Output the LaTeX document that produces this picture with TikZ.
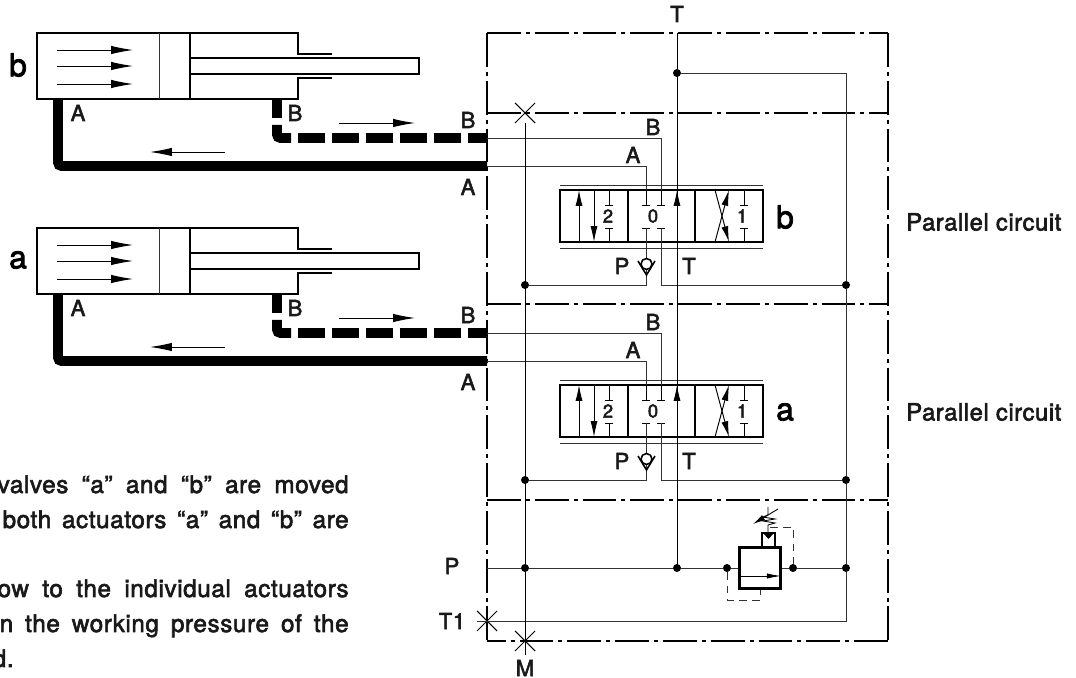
\documentclass[tikz,border=0pt]{standalone}
\usepackage{fontspec}
\setmainfont{TeX Gyre Heros}
\newfontfamily\medfont[FakeBold=2.5,LetterSpace=2.5]{TeX Gyre Heros}
\usepackage{tikz}
\usetikzlibrary{arrows.meta}
\usetikzlibrary{positioning,shapes.misc}
\definecolor{pipegray}{gray}{0.2}
\tikzset{
	pipe/.style={pipegray,line width=0.55pt},
	border/.style={black,line width=0.85pt,dash pattern=on 19.3pt off 2.8pt on 2.3pt off 2.8pt},
	heavy/.style={black,line width=5.6pt},
	pilot/.style={pipegray,line width=0.55pt,dash pattern=on 4.5pt off 3pt},
	junction/.style={circle,fill=black,inner sep=0pt,minimum size=0.16cm},
	plug/.style={cross out,draw=black,line width=0.6pt,inner sep=0pt,minimum size=0.38cm},
	port/.style={font=\medfont\fontsize{12.5}{14}\selectfont,text=black!90,inner sep=0pt},
	unitname/.style={font=\medfont\fontsize{18}{20}\selectfont,inner sep=0pt},
	digit/.style={font=\medfont\fontsize{10.5}{12}\selectfont,text=black!90,inner sep=0pt},
	note/.style={font=\medfont\fontsize{13.8}{16}\selectfont,text=black!90,inner sep=0pt,anchor=base east},
	flow/.style={black,line width=0.5pt,-{Latex[length=12.5pt,width=4.8pt]}},
	spool/.style={black,line width=0.55pt,-{Latex[length=9pt,width=4pt]}},
}
\newcommand{\cylinderunit}[2]{
	\begin{scope}[shift={(0,#1)}]
	\draw[black,line width=0.7pt] (332,54) -- (298,54) -- (298,33) -- (37,33) -- (37,99) -- (298,99) -- (298,78) -- (332,78);
	\draw[pipe] (159,33) -- (159,99);
	\draw[black,line width=0.6pt] (190,33) -- (190,99);
	\draw[black,line width=0.6pt] (190,58) -- (419,58) -- (419,74) -- (190,74);
	\draw[flow] (57,50) -- (133,50);
	\draw[flow] (57,66) -- (133,66);
	\draw[flow] (57,84) -- (133,84);
	\draw[heavy,rounded corners=2pt] (58,99) -- (58,166) -- (487,166);
	\draw[heavy] (277,99) -- (277,118);
	\draw[heavy,rounded corners=2pt] (277,125) -- (277,138) -- (291,138);
	\draw[heavy,dash pattern=on 15.5pt off 3.8pt] (298,138) -- (487,138);
	\draw[flow] (339,123) -- (415,123);
	\draw[flow] (225,152) -- (150,152);
	\node[unitname] (cyl#2) at (18,65) {#2};
	\node[port] (capA#2) at (78,113) {A};
	\node[port] (capB#2) at (295,113) {B};
	\node[port] (extB#2) at (468,120) {B};
	\node[port] (extA#2) at (468,187) {A};
	\end{scope}
}
\newcommand{\stub}[3]{
	\draw[black,line width=0.5pt] (#1,#2) -- (#1,#3);
	\draw[black,line width=0.5pt] (#1-4,#3) -- (#1+4,#3);
}
\newcommand{\valveunit}[2]{
	\begin{scope}[shift={(0,#1)}]
	\draw[pipegray,line width=0.5pt] (560,185) -- (763,185);
	\draw[pipegray,line width=0.5pt] (560,248) -- (763,248);
	\draw[black,line width=1pt] (560,190) rectangle (763,242);
	\draw[black,line width=0.9pt] (628,190) -- (628,242);
	\draw[black,line width=0.9pt] (695,190) -- (695,242);
	\draw[spool] (579,242) -- (579,190);
	\draw[spool] (594,190) -- (594,242);
	\draw[spool] (715,242) -- (729,190);
	\draw[spool] (715,190) -- (729,242);
	\draw[spool] (677,225) -- (677,190);
	\stub{609}{190}{205}
	\stub{609}{242}{228}
	\stub{744}{190}{205}
	\stub{744}{242}{228}
	\stub{646}{190}{205}
	\stub{646}{242}{228}
	\stub{661}{190}{205}
	\stub{661}{242}{228}
	\node[digit] (two#2) at (608,216) {2};
	\node[digit] (zero#2) at (653,216) {0};
	\node[digit] (one#2) at (742,216) {1};
	\node[unitname] (valve#2) at (785,217) {#2};
	\draw[pipe] (487,138) -- (661,138) -- (661,190);
	\draw[pipe] (487,166) -- (646,166) -- (646,190);
	\node[port] (inB#2) at (653,127) {B};
	\node[port] (inA#2) at (633,155) {A};
	\node[port] (inP#2) at (622,266) {P};
	\node[port] (inT#2) at (689,266) {T};
	\node[junction] (left#2) at (525,285) {};
	\node[junction] (right#2) at (846,285) {};
	\draw[pipe] (646,228) -- (646,285) -- (left#2);
	\draw[pipe] (661,228) -- (661,285) -- (right#2);
	\draw[black,line width=0.9pt,fill=white] (646.5,264) circle (5.5);
	\draw[black,line width=0.9pt] (638,261) -- (646.5,275) -- (655,261);
	\end{scope}
}
\begin{document}
\begin{tikzpicture}[x=0.02cm,y=-0.02cm]
	\useasboundingbox (0,0) rectangle (1076,678);
	\draw[border] (487,33) -- (888,33);
	\draw[border] (487,113) -- (888,113);
	\draw[border] (487,304) -- (888,304);
	\draw[border] (487,500) -- (888,500);
	\draw[border] (888,641) -- (487,641);
	\draw[border] (487,33) -- (487,641);
	\draw[border] (888,33) -- (888,641);
	\cylinderunit{0}{b}
	\cylinderunit{195}{a}
	\valveunit{0}{b}
	\valveunit{195}{a}
	\node[junction] (tankjoin) at (677,73) {};
	\node[junction] (pumptank) at (677,568) {};
	\node[junction] (pumpgauge) at (525,568) {};
	\node[junction] (pilotin) at (727,568) {};
	\node[junction] (pilotout) at (793,568) {};
	\node[junction] (pumpreturn) at (846,568) {};
	\node[draw=black,line width=1.2pt,minimum size=0.82cm,inner sep=0pt] (relief) at (760,568) {};
	\draw[black,line width=1pt] (762,547) -- (762,533) -- (775,533) -- (775,547);
	\fill[black] (763,533) -- (774,533) -- (768.5,539) -- cycle;
	\draw[black,line width=0.5pt,-{Latex[length=8pt,width=3pt]}] (739,576) -- (781,576);
	\draw[pilot] (770,527) -- (793,527) -- (pilotout);
	\draw[pilot] (pilotin) -- (727,600) -- (760,600) -- (relief.south);
	\draw[black,line width=0.5pt] (768,533) -- (768,525) -- (775,523) -- (763,521) -- (775,519) -- (763,517) -- (768,515) -- (768,507);
	\draw[black,line width=0.5pt,-{Latex[length=7pt,width=3.4pt]}] (778,509) -- (753,524);
	\node[plug] (gaugetop) at (525,113) {};
	\node[plug] (gaugeport) at (525,641) {};
	\node[plug] (drainport) at (487,621) {};
	\coordinate (tankport) at (677,33);
	\coordinate (pumpport) at (487,568);
	\coordinate (gaugeend) at (525,655);
	\coordinate (draincorner) at (846,621);
	\draw[pipe,black] (tankport) -- (tankjoin) -- (pumptank);
	\draw[pipe] (tankjoin) -- (846,73) -- (rightb) -- (righta) -- (pumpreturn) -- (draincorner) -- (drainport.west);
	\draw[pipe,black] (gaugetop) -- (pumpgauge) -- (gaugeend);
	\draw[pipe] (pumpport) -- (pumpgauge) -- (pumptank) -- (pilotin) -- (relief.west);
	\draw[pipe] (relief.east) -- (pilotout) -- (pumpreturn);
	\node[port] (labelT) at (677,14) {T};
	\node[port] (labelP) at (452,566) {P};
	\node[port] (labelTone) at (452,621) {T1};
	\node[port] (labelM) at (525,668) {M};
	\node[port,anchor=west,font=\medfont\fontsize{13.5}{16}\selectfont] (parallelb) at (906,222) {Parallel circuit};
	\node[port,anchor=west,font=\medfont\fontsize{13.5}{16}\selectfont] (parallela) at (906,412) {Parallel circuit};
	\node[note] (noteone) at (349,493) {\makebox[351\dimexpr0.02cm\relax][s]{valves “a” and “b” are moved}};
	\node[note] (notetwo) at (349,528) {\makebox[346\dimexpr0.02cm\relax][s]{both actuators “a” and “b” are}};
	\node[note] (notethree) at (349,597) {\makebox[351\dimexpr0.02cm\relax][s]{ow to the individual actuators}};
	\node[note] (notefour) at (349,632) {\makebox[349\dimexpr0.02cm\relax][s]{n the working pressure of the}};
	\node[note] (notefive) at (14,667) {d.};
\end{tikzpicture}
\end{document}
